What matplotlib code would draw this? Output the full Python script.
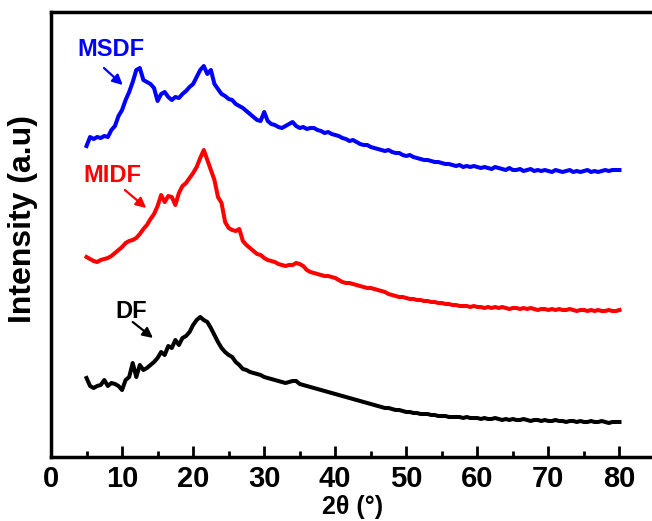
import numpy as np
import matplotlib
matplotlib.use("Agg")
import matplotlib.pyplot as plt
from matplotlib.ticker import MultipleLocator

# 2theta grid, 5 to 80 deg in 0.5 deg steps
two_theta = np.arange(5.0, 80.01, 0.5)

# intensities (arbitrary units, curves already offset)
msdf = [
    354, 363, 361, 363, 362, 364, 363, 370, 374, 384,
    390, 400, 408, 418, 430, 432, 420, 418, 416, 412,
    399, 406, 408, 403, 400, 403, 402, 406, 409, 413,
    416, 423, 430, 434, 426, 430, 416, 411, 406, 404,
    401, 400, 396, 394, 392, 389, 386, 383, 380, 379,
    388, 379, 376, 375, 373, 372, 374, 376, 378, 374,
    372, 373, 371, 372, 372, 370, 369, 367, 368, 366,
    365, 364, 362, 361, 359, 360, 358, 356, 355, 355,
    353, 352, 351, 350, 349, 350, 348, 347, 347, 345,
    344, 345, 343, 342, 341, 340, 340, 339, 338, 338,
    337, 336, 336, 335, 334, 335, 333, 334, 333, 334,
    333, 332, 333, 332, 331, 333, 332, 331, 330, 332,
    330, 330, 331, 329, 330, 331, 329, 330, 329, 330,
    329, 328, 330, 329, 328, 329, 330, 328, 329, 328,
    329, 330, 328, 329, 328, 329, 330, 329, 330, 330,
    330,
]
midf = [
    243, 241, 239, 238, 240, 241, 242, 244, 247, 250,
    253, 257, 259, 260, 262, 266, 271, 275, 281, 286,
    294, 305, 298, 304, 303, 295, 307, 314, 317, 322,
    327, 333, 342, 350, 340, 330, 320, 303, 297, 278,
    272, 270, 269, 271, 259, 255, 252, 249, 246, 245,
    242, 240, 239, 238, 236, 235, 234, 235, 235, 237,
    236, 234, 230, 228, 227, 226, 225, 224, 224, 223,
    222, 220, 218, 217, 217, 216, 215, 214, 213, 212,
    212, 211, 210, 209, 208, 206, 205, 204, 203, 203,
    202, 201, 201, 200, 200, 199, 199, 198, 198, 197,
    197, 196, 196, 195, 195, 194, 194, 194, 193, 194,
    193, 193, 192, 193, 192, 193, 192, 193, 192, 191,
    192, 192, 191, 192, 191, 192, 191, 190, 191, 191,
    190, 191, 190, 191, 190, 190, 191, 190, 189, 190,
    190, 189, 190, 189, 190, 189, 189, 190, 189, 189,
    190,
]
df = [
    122, 114, 112, 114, 115, 120, 114, 117, 116, 114,
    110, 120, 123, 137, 123, 135, 130, 132, 135, 138,
    142, 148, 145, 154, 152, 160, 155, 162, 164, 168,
    175, 180, 183, 180, 178, 172, 165, 158, 152, 148,
    145, 143, 138, 135, 131, 130, 128, 127, 126, 125,
    123, 122, 121, 120, 119, 118, 117, 118, 119, 119,
    116, 115, 114, 113, 112, 111, 110, 109, 108, 107,
    106, 105, 104, 103, 102, 101, 100, 99, 98, 97,
    96, 95, 94, 93, 92, 92, 91, 90, 90, 89,
    88, 88, 87, 87, 86, 86, 86, 85, 85, 84,
    84, 84, 83, 83, 83, 83, 82, 83, 82, 82,
    82, 81, 82, 81, 81, 82, 81, 80, 81, 80,
    81, 80, 80, 81, 80, 79, 80, 80, 79, 80,
    79, 79, 80, 79, 79, 78, 79, 79, 78, 79,
    78, 78, 79, 78, 78, 79, 78, 77, 78, 78,
    78,
]

names = ["MSDF", "MIDF", "DF"]
colors = ["#0000ff", "#ff0000", "#000000"]
# label position and arrow (tail, tip) in data coordinates
label_xy = [(8.45, 451), (8.7, 324), (11.3, 189)]
arrow_tail = [(7.45, 432), (10.4, 310), (11.5, 178)]
arrow_tip = [(10.1, 415), (13.4, 292), (14.35, 162)]

plt.rcParams["font.family"] = ["Liberation Sans", "DejaVu Sans"]
plt.rcParams["font.weight"] = "bold"

fig = plt.figure(figsize=(6.52, 5.21), dpi=100)
ax = fig.add_axes([51 / 652, 64 / 521, 604 / 652, 445 / 521])

for series, name, c in zip([msdf, midf, df], names, colors):
    ax.plot(two_theta, series, color=c, lw=2.9, solid_joinstyle="round")

for name, c, lxy, tail, tip in zip(names, colors, label_xy, arrow_tail, arrow_tip):
    ax.text(lxy[0], lxy[1], name, color=c, fontsize=17, fontweight="bold",
            ha="center", va="center")
    ax.annotate("", xy=tip, xytext=tail,
                arrowprops=dict(arrowstyle="-|>", color=c, lw=1.6,
                                mutation_scale=15, shrinkA=0, shrinkB=0))

ax.set_xlim(0, 85)
ax.set_ylim(43, 488)
ax.set_yticks([])
ax.xaxis.set_major_locator(MultipleLocator(10))
ax.xaxis.set_minor_locator(MultipleLocator(5))
ax.tick_params(axis="x", which="major", direction="in", length=8, width=2,
               pad=6)
ax.tick_params(axis="x", which="minor", direction="in", length=4, width=2)
for lab in ax.get_xticklabels():
    lab.set_family(["Liberation Sans Narrow", "Liberation Sans"])
    lab.set_fontsize(21)
    lab.set_fontweight("bold")

for s in ax.spines.values():
    s.set_linewidth(2.5)

ax.set_xlabel("2θ (°)", fontsize=18, fontweight="bold", labelpad=1)
ax.set_ylabel("Intensity (a.u)", fontsize=23, fontweight="bold")
ax.yaxis.set_label_coords(-0.022, 0.535)

fig.savefig("out.png", dpi=100)
